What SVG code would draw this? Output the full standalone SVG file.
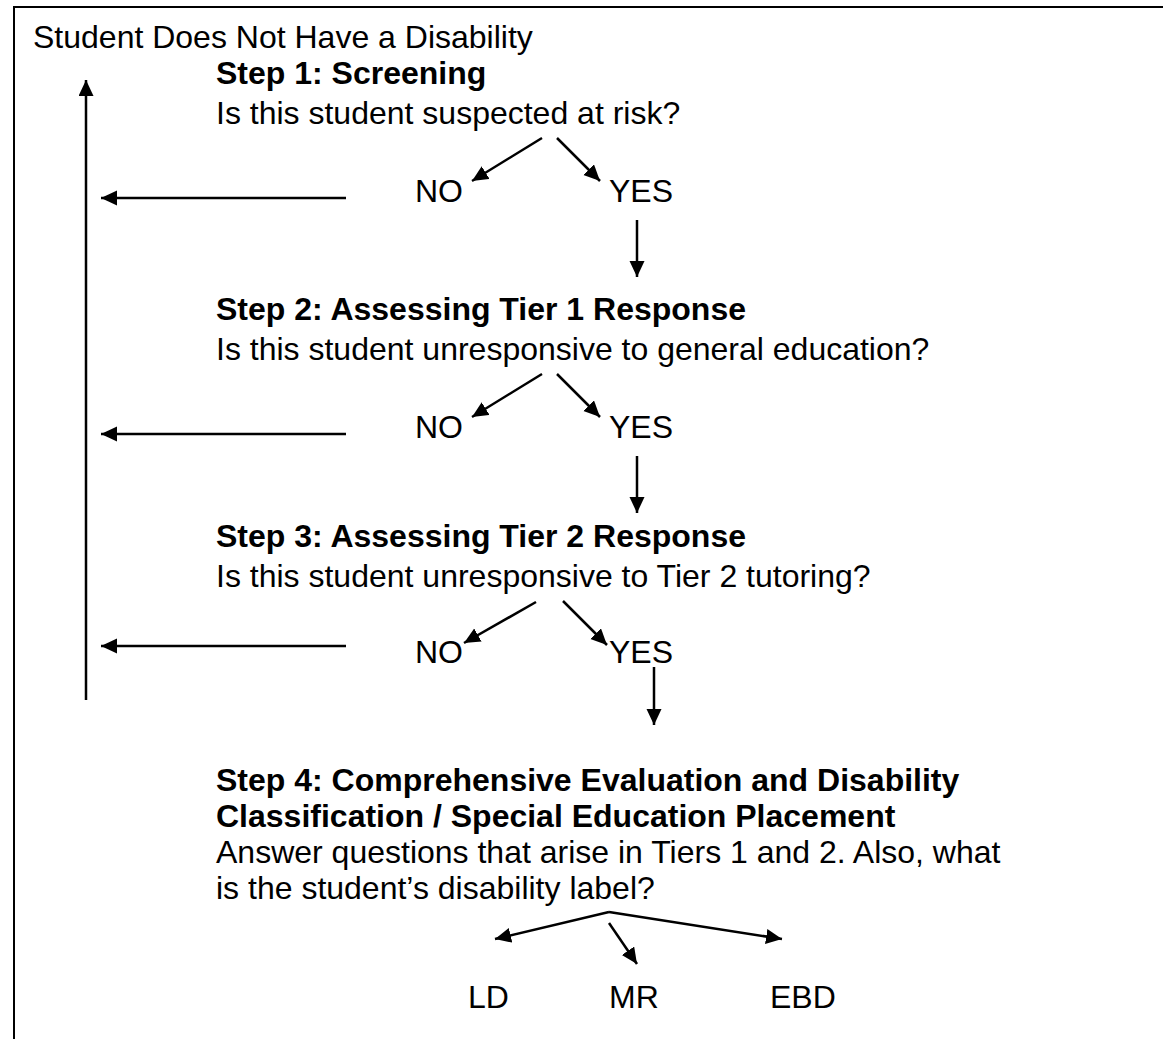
<svg xmlns="http://www.w3.org/2000/svg" width="1163" height="1039" viewBox="0 0 1163 1039">
  <style>
    text { font-family: "Liberation Sans", Arial, sans-serif; font-size: 32px; fill: #000; }
    .b { font-weight: bold; }
    .ln { stroke: #000; stroke-width: 2.5; fill: none; }
    .frame { stroke: #000; stroke-width: 2; fill: none; }
  </style>
  <defs>
    <marker id="ah" markerUnits="userSpaceOnUse" markerWidth="17" markerHeight="16" refX="16" refY="7.5" orient="auto">
      <path d="M0,0 L16,7.5 L0,15 Z" fill="#000"/>
    </marker>
  </defs>
  <rect width="1163" height="1039" fill="#fff"/>

  <!-- open frame: top and left edges only -->
  <path class="frame" d="M14,1039 V7 H1163"/>

  <g id="outcome-no-disability">
    <text x="33" y="48">Student Does Not Have a Disability</text>
  </g>

  <g id="step1">
    <text class="b" x="216" y="84">Step 1: Screening</text>
    <text x="216" y="124">Is this student suspected at risk?</text>
    <text x="415" y="202">NO</text>
    <text x="609" y="202">YES</text>
  </g>

  <g id="step2">
    <text class="b" x="216" y="320">Step 2: Assessing Tier 1 Response</text>
    <text x="216" y="360">Is this student unresponsive to general education?</text>
    <text x="415" y="438">NO</text>
    <text x="609" y="438">YES</text>
  </g>

  <g id="step3">
    <text class="b" x="216" y="547">Step 3: Assessing Tier 2 Response</text>
    <text x="216" y="587">Is this student unresponsive to Tier 2 tutoring?</text>
    <text x="415" y="663">NO</text>
    <text x="609" y="663">YES</text>
  </g>

  <g id="step4">
    <text class="b" x="216" y="791">Step 4: Comprehensive Evaluation and Disability</text>
    <text class="b" x="216" y="827">Classification / Special Education Placement</text>
    <text x="216" y="863">Answer questions that arise in Tiers 1 and 2. Also, what</text>
    <text x="216" y="899">is the student’s disability label?</text>
  </g>

  <g id="label-ld"><text x="468" y="1008">LD</text></g>
  <g id="label-mr"><text x="609" y="1008">MR</text></g>
  <g id="label-ebd"><text x="770" y="1008">EBD</text></g>

  <g id="connectors">
    <!-- return path to "does not have a disability" -->
    <line class="ln" x1="86" y1="700" x2="86" y2="80" marker-end="url(#ah)"/>
    <line class="ln" x1="346" y1="198" x2="101" y2="198" marker-end="url(#ah)"/>
    <line class="ln" x1="346" y1="434" x2="101" y2="434" marker-end="url(#ah)"/>
    <line class="ln" x1="346" y1="646" x2="101" y2="646" marker-end="url(#ah)"/>

    <!-- step 1 branches -->
    <line class="ln" x1="542" y1="138" x2="472" y2="181" marker-end="url(#ah)"/>
    <line class="ln" x1="557" y1="138" x2="600" y2="181" marker-end="url(#ah)"/>
    <line class="ln" x1="637" y1="220" x2="637" y2="277" marker-end="url(#ah)"/>

    <!-- step 2 branches -->
    <line class="ln" x1="542" y1="374" x2="472" y2="417" marker-end="url(#ah)"/>
    <line class="ln" x1="557" y1="374" x2="600" y2="417" marker-end="url(#ah)"/>
    <line class="ln" x1="637" y1="456" x2="637" y2="513" marker-end="url(#ah)"/>

    <!-- step 3 branches -->
    <line class="ln" x1="536" y1="602" x2="464" y2="643" marker-end="url(#ah)"/>
    <line class="ln" x1="563" y1="601" x2="607" y2="645" marker-end="url(#ah)"/>
    <line class="ln" x1="654" y1="667" x2="654" y2="725" marker-end="url(#ah)"/>

    <!-- step 4 classification branches -->
    <path class="ln" d="M609,912 L495,939" marker-end="url(#ah)"/>
    <path class="ln" d="M609,912 L782,939" marker-end="url(#ah)"/>
    <line class="ln" x1="609" y1="923" x2="637" y2="964" marker-end="url(#ah)"/>
  </g>
</svg>
